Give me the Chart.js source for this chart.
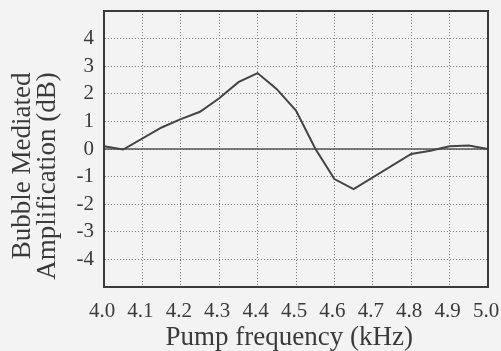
<!DOCTYPE html>
<html>
<head>
<meta charset="utf-8">
<script src="https://cdn.jsdelivr.net/npm/chart.js@4/dist/chart.umd.min.js"></script>
<style>
    body { margin: 0; background: #f3f3f3; }
    #wrap { width: 501px; height: 351px; }
</style>
</head>
<body>
<div id="wrap"><canvas id="line-chart" width="501" height="351"></canvas></div>
<script>
// values
const freq = [4.0, 4.05, 4.15, 4.2, 4.25, 4.3, 4.35, 4.4, 4.45, 4.5, 4.55, 4.6, 4.65, 4.8, 4.85, 4.9, 4.95, 5.0];
const amp = [0.1, -0.02, 0.78, 1.08, 1.35, 1.84, 2.42, 2.75, 2.17, 1.39, 0.02, -1.09, -1.45, -0.18, -0.06, 0.1, 0.13, 0];
const zeroX = [4.0, 5.0];
const zeroY = [0, 0];
const xRange = [4.0, 5.0];
const yRange = [-5, 5];
const xTitle = 'Pump frequency (kHz)  ';
const yTitle = ['Bubble Mediated     ', 'Amplification (dB)        '];

const ink = '#3a3a3a';
const serif = "'Liberation Serif', 'Times New Roman', serif";

// box around the plot area
const frame = {
    id: 'frame',
    afterDatasetsDraw(chart) {
        const a = chart.chartArea;
        const ctx = chart.ctx;
        ctx.save();
        ctx.strokeStyle = ink;
        ctx.lineWidth = 2;
        ctx.strokeRect(a.left, a.top, a.right - a.left, a.bottom - a.top);
        ctx.restore();
    }
};

new Chart(document.getElementById('line-chart'), {
    type: 'line',
    data: {
        datasets: [
            {
                data: freq.map((f, i) => ({x: f, y: amp[i]})),
                borderColor: '#444',
                borderWidth: 2,
                pointRadius: 0,
                tension: 0
            },
            {
                data: zeroX.map((f, i) => ({x: f, y: zeroY[i]})),
                borderColor: '#555',
                borderWidth: 1.5,
                pointRadius: 0
            }
        ]
    },
    options: {
        responsive: false,
        animation: false,
        layout: { padding: { top: 11, right: 13, left: 0, bottom: 0 } },
        plugins: { legend: { display: false }, tooltip: { enabled: false } },
        scales: {
            x: {
                type: 'linear',
                min: xRange[0],
                max: xRange[1],
                afterFit(scale) {
                    scale.height = 64;
                    scale.paddingLeft = 0;
                    scale.paddingRight = 0;
                },
                grid: { color: '#808080', lineWidth: 1, drawTicks: false },
                border: { color: ink, width: 2, dash: [1, 2] },
                ticks: {
                    stepSize: 0.1,
                    autoSkip: false,
                    maxRotation: 0,
                    padding: 12,
                    labelOffset: -2,
                    color: ink,
                    font: { family: serif, size: 21 },
                    callback: v => v.toFixed(1)
                },
                title: {
                    display: true,
                    text: xTitle,
                    color: ink,
                    font: { family: serif, size: 27, lineHeight: 1 },
                    padding: { top: 0, bottom: 0 }
                }
            },
            y: {
                min: yRange[0],
                max: yRange[1],
                afterFit(scale) {
                    scale.width = 104;
                    scale.paddingTop = 0;
                    scale.paddingBottom = 0;
                },
                grid: { color: '#808080', lineWidth: 1, drawTicks: false },
                border: { color: ink, width: 2, dash: [1, 2] },
                ticks: {
                    stepSize: 1,
                    autoSkip: false,
                    padding: 10,
                    color: ink,
                    font: { family: serif, size: 21 },
                    callback: v => (Math.abs(v) >= 5 ? '' : v)
                },
                title: {
                    display: true,
                    text: yTitle,
                    color: ink,
                    font: { family: serif, size: 27, lineHeight: 0.9 },
                    padding: { top: 11, bottom: 0 }
                }
            }
        }
    },
    plugins: [frame]
});
</script>
</body>
</html>
